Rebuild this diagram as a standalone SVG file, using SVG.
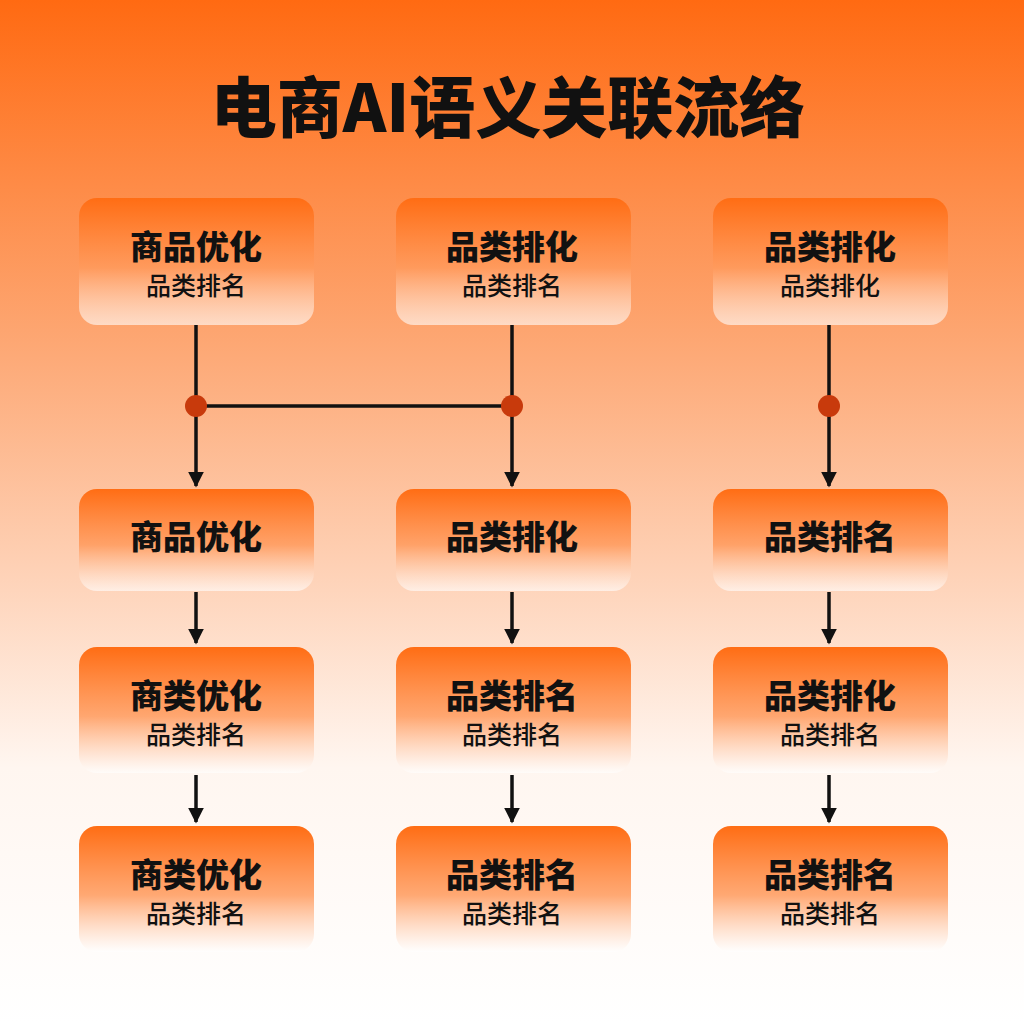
<svg xmlns="http://www.w3.org/2000/svg" width="1024" height="1024" viewBox="0 0 1024 1024">
<defs>
<linearGradient id="bg" x1="0" y1="0" x2="0" y2="1">
<stop offset="0" stop-color="#ff6a12"/>
<stop offset="0.35" stop-color="#fdaa78"/>
<stop offset="0.75" stop-color="#fff6f0"/>
<stop offset="1" stop-color="#ffffff"/>
</linearGradient>
<linearGradient id="nd" x1="0" y1="0" x2="0" y2="1">
<stop offset="0" stop-color="#ff6d14"/>
<stop offset="0.55" stop-color="#ff9a5c" stop-opacity="0.85"/>
<stop offset="1" stop-color="#ffffff" stop-opacity="0.6"/>
</linearGradient>
<marker id="ah" viewBox="0 0 10 10" refX="9" refY="5" markerWidth="4.5" markerHeight="4.5" orient="auto">
<path d="M0,0 L10,5 L0,10 z" fill="#111"/>
</marker>
<style>
.n{fill:url(#nd)}
.t{font-family:"Noto Sans CJK SC","Noto Sans",sans-serif;font-weight:900;font-size:33px;fill:#111;text-anchor:middle}
.s{font-family:"Noto Sans CJK SC","Noto Sans",sans-serif;font-weight:500;font-size:25px;fill:#111;text-anchor:middle}
.c{stroke:#111;stroke-width:3.5;fill:none}
.a{marker-end:url(#ah)}
.d{fill:#c83a0c}
</style>
</defs>
<rect width="1024" height="1024" fill="url(#bg)"/>
<text x="508" y="132" font-family="'Noto Sans CJK SC','Noto Sans',sans-serif" font-weight="900" font-size="66" fill="#111" text-anchor="middle">电商AI语义关联流络</text>

<g id="connectors">
<line class="c a" x1="196" y1="325" x2="196" y2="486"/>
<line class="c a" x1="512" y1="325" x2="512" y2="486"/>
<line class="c a" x1="829" y1="325" x2="829" y2="486"/>
<line class="c" x1="196" y1="406" x2="512" y2="406"/>
<circle class="d" cx="196" cy="406" r="11"/>
<circle class="d" cx="512" cy="406" r="11"/>
<circle class="d" cx="829" cy="406" r="11"/>
<line class="c a" x1="196" y1="592" x2="196" y2="643"/>
<line class="c a" x1="512" y1="592" x2="512" y2="643"/>
<line class="c a" x1="829" y1="592" x2="829" y2="643"/>
<line class="c a" x1="196" y1="775" x2="196" y2="822"/>
<line class="c a" x1="512" y1="775" x2="512" y2="822"/>
<line class="c a" x1="829" y1="775" x2="829" y2="822"/>
</g>

<g id="n11"><rect class="n" x="79" y="198" width="235" height="127" rx="18"/><text class="t" x="196" y="259">商品优化</text><text class="s" x="196" y="295">品类排名</text></g>
<g id="n12"><rect class="n" x="396" y="198" width="235" height="127" rx="18"/><text class="t" x="512" y="259">品类排化</text><text class="s" x="512" y="295">品类排名</text></g>
<g id="n13"><rect class="n" x="713" y="198" width="235" height="127" rx="18"/><text class="t" x="830" y="259">品类排化</text><text class="s" x="830" y="295">品类排化</text></g>

<g id="n21"><rect class="n" x="79" y="489" width="235" height="102" rx="18"/><text class="t" x="196" y="549">商品优化</text></g>
<g id="n22"><rect class="n" x="396" y="489" width="235" height="102" rx="18"/><text class="t" x="512" y="549">品类排化</text></g>
<g id="n23"><rect class="n" x="713" y="489" width="235" height="102" rx="18"/><text class="t" x="830" y="549">品类排名</text></g>

<g id="n31"><rect class="n" x="79" y="647" width="235" height="126" rx="18"/><text class="t" x="196" y="708">商类优化</text><text class="s" x="196" y="744">品类排名</text></g>
<g id="n32"><rect class="n" x="396" y="647" width="235" height="126" rx="18"/><text class="t" x="512" y="708">品类排名</text><text class="s" x="512" y="744">品类排名</text></g>
<g id="n33"><rect class="n" x="713" y="647" width="235" height="126" rx="18"/><text class="t" x="830" y="708">品类排化</text><text class="s" x="830" y="744">品类排名</text></g>

<g id="n41"><rect class="n" x="79" y="826" width="235" height="126" rx="18"/><text class="t" x="196" y="887">商类优化</text><text class="s" x="196" y="923">品类排名</text></g>
<g id="n42"><rect class="n" x="396" y="826" width="235" height="126" rx="18"/><text class="t" x="512" y="887">品类排名</text><text class="s" x="512" y="923">品类排名</text></g>
<g id="n43"><rect class="n" x="713" y="826" width="235" height="126" rx="18"/><text class="t" x="830" y="887">品类排名</text><text class="s" x="830" y="923">品类排名</text></g>
</svg>
